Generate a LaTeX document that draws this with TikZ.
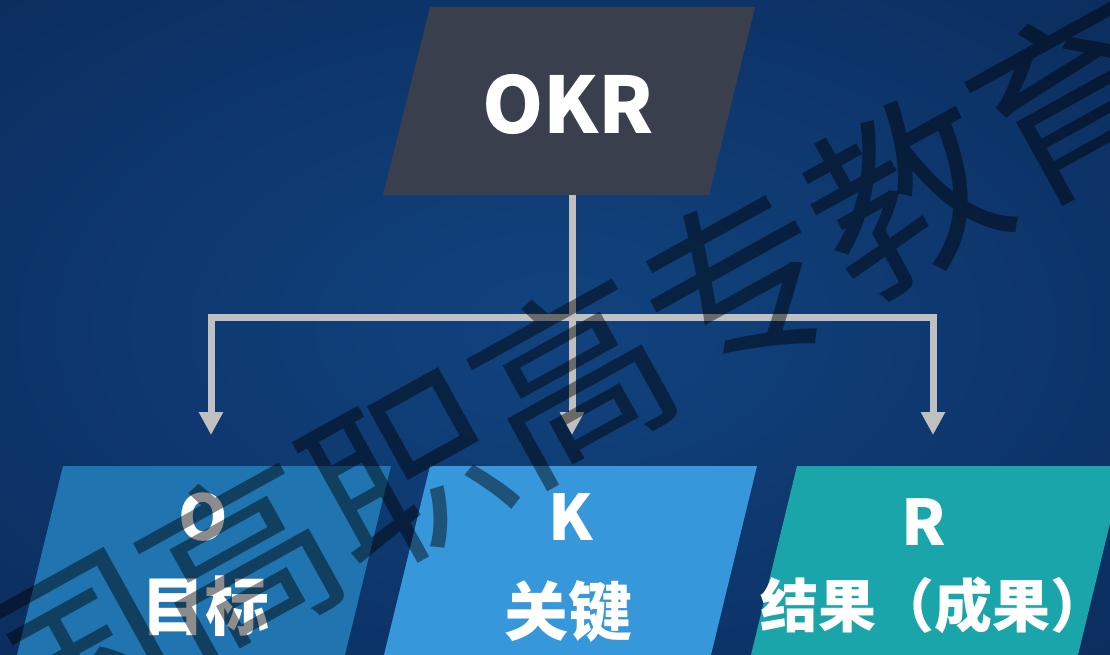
\documentclass[tikz,border=0pt]{standalone}
\usepackage{fontspec}
\newfontfamily\mycjk{Noto Sans CJK SC}
\usetikzlibrary{arrows.meta}
\definecolor{bgin}{HTML}{11437F}
\definecolor{bgmid}{HTML}{0D3469}
\definecolor{bgout}{HTML}{0A2450}
\definecolor{topfill}{HTML}{3A3F4E}
\definecolor{ofill}{HTML}{2074B0}
\definecolor{kfill}{HTML}{3797DB}
\definecolor{rfill}{HTML}{1AA5AB}
\definecolor{connc}{HTML}{C0C0C0}
\pgfdeclareradialshading{bgshade}{\pgfpoint{0bp}{0bp}}{color(0bp)=(bgin); color(25bp)=(bgmid); color(50bp)=(bgout); color(100bp)=(bgout)}
\newcommand\myfokr{\mycjk\bfseries\fontsize{78}{80}\selectfont}
\newcommand\myflet{\mycjk\bfseries\fontsize{63}{65}\selectfont}
\newcommand\myfcjk{\mycjk\bfseries\fontsize{64}{66}\selectfont}
\newcommand\myfcjks{\mycjk\bfseries\fontsize{58}{60}\selectfont}
\newcommand\myfwm{\mycjk\fontsize{190}{190}\selectfont}
\begin{document}
\begin{tikzpicture}[x=1pt,y=-1pt,
  lbl/.style={text=white, inner sep=0pt, anchor=center},
  conn/.style={draw=connc, line width=7pt, -{Triangle[length=23pt,width=23pt]}},
  wmark/.style={text=black, text opacity=0.45, inner sep=0pt, font=\myfwm}]
\useasboundingbox (0,0) rectangle (1110,655);
\clip (0,0) rectangle (1110,655);
\shade[shading=bgshade] (0,0) rectangle (1110,655);
% boxes
\fill[topfill] (430,7) -- (755,7) -- (709,195) -- (383,195) -- cycle;
\fill[ofill] (63,466) -- (391,466) -- (334,700) -- (6,700) -- cycle;
\fill[kfill] (430,466) -- (757,466) -- (700,700) -- (373,700) -- cycle;
\fill[rfill] (797,466) -- (1124,466) -- (1067,700) -- (740,700) -- cycle;
% labels
\node[lbl, font=\myfokr] (okr) at (568,104.5) {OKR};
\node[lbl, font=\myflet] (oL) at (203.5,517.5) {O};
\node[lbl, font=\myfcjk] (oT) at (205,606) {目标};
\node[lbl, font=\myflet] (kL) at (571,517.5) {K};
\node[lbl, font=\myfcjk] (kT) at (568,611) {关键};
\node[lbl, font=\myflet] (rL) at (924,522) {R};
\node[lbl, font=\myfcjks, anchor=west] (rT) at (760,605.5) {结果（成果）};
% connectors
\coordinate (stemtop) at (572,195);
\coordinate (split) at (572,317);
\coordinate (otip) at (211,435);
\coordinate (ktip) at (572,435);
\coordinate (rtip) at (933,435);
\draw[conn] (stemtop) -- (ktip);
\draw[conn, {Triangle[length=23pt,width=23pt]}-{Triangle[length=23pt,width=23pt]}] (otip) -- (otip |- split) -- (rtip |- split) -- (rtip);
% watermark
\node[wmark, rotate=29] (wm) at (572,378) {国高职高专教育};
\end{tikzpicture}
\end{document}
